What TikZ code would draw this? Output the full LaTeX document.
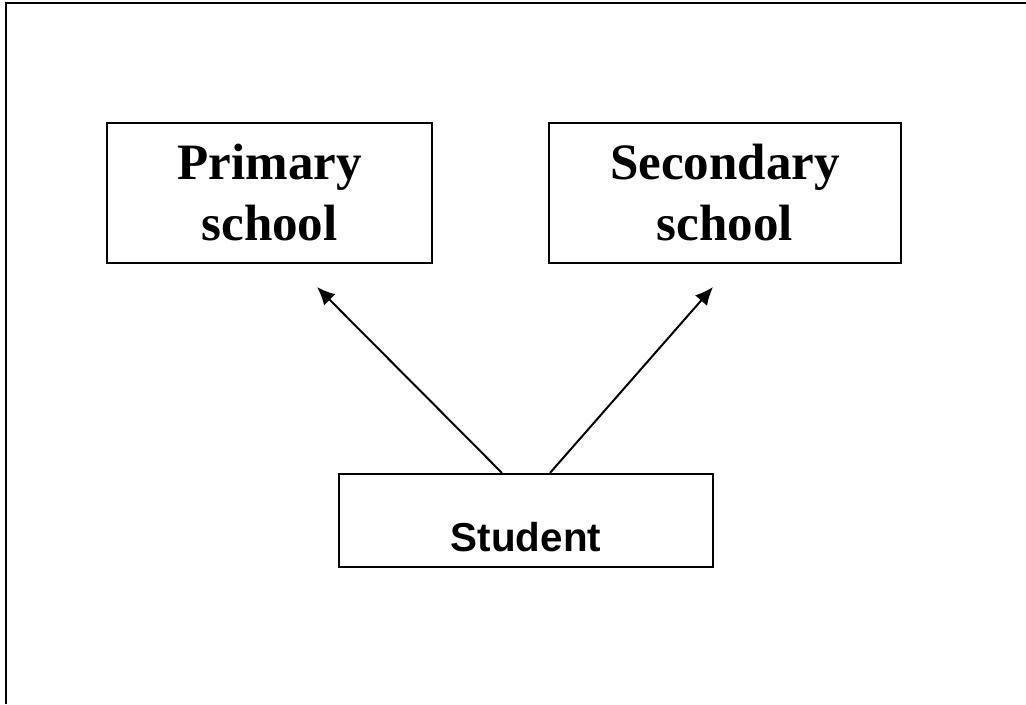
\documentclass[tikz,border=0pt]{standalone}
\usepackage{fontspec}
\setmainfont{Liberation Serif}
\setsansfont{Liberation Sans}
\usetikzlibrary{arrows.meta}

\begin{document}
\begin{tikzpicture}[
	schoolbox/.style={draw, line width=1.5pt, minimum height=3.5cm, align=center,
		font=\fontsize{36.3}{43.4}\selectfont\bfseries},
	pointer/.style={line width=1.4pt, -{Latex[length=0.45cm, width=0.4cm]}}
]
	\useasboundingbox (0,0) rectangle (25.65,17.6);
	\draw[line width=1.8pt] (0.15,0) -- (0.15,17.525) -- (25.65,17.525);

	\node[schoolbox, minimum width=8.125cm] (primary) at (6.74,12.775) {Primary\\school};
	\node[schoolbox, minimum width=8.8cm] (secondary) at (18.125,12.775) {Secondary\\school};
	\node[draw, line width=1.5pt, minimum width=9.35cm, minimum height=2.325cm,
		text height=1.575cm, text depth=0cm,
		font=\sffamily\bfseries\fontsize{28.7}{34}\selectfont] (student) at (13.15,4.5875) {Student};

	\coordinate (ptip) at (7.925,10.425);
	\coordinate (stip) at (17.825,10.425);
	\draw[pointer] ([xshift=-0.6cm]student.north) -- (ptip);
	\draw[pointer] ([xshift=0.6cm]student.north) -- (stip);
\end{tikzpicture}
\end{document}
